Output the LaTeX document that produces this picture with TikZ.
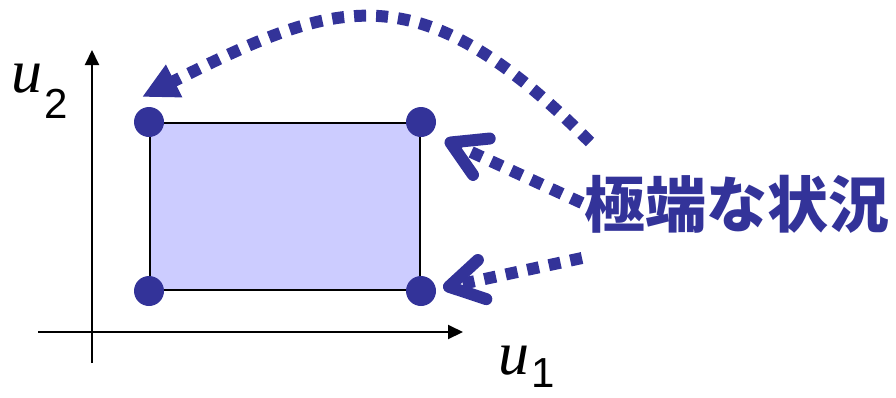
\documentclass[tikz,border=0pt]{standalone}
\usepackage{fontspec}
\usetikzlibrary{arrows.meta}
\newfontfamily\cjkfont{Noto Sans CJK JP}
\newfontfamily\mathufont{Liberation Serif}
\newfontfamily\subsfont{Liberation Sans}
\definecolor{dblue}{HTML}{333399}
\definecolor{lblue}{HTML}{CCCCFF}
\begin{document}
\begin{tikzpicture}[x=1pt,y=-1pt,
  axis/.style={line width=2pt,-{Triangle[length=15pt,width=14pt]}},
  corner/.style={circle,fill=dblue,inner sep=0pt,minimum size=30pt},
  dotarrow/.style={dblue,line width=12pt,dash pattern=on 12pt off 10pt},
  barb/.style={dotarrow,-{Straight Barb[length=34pt,width=40pt,line width=12pt,round]}},
  lbl/.style={inner sep=0pt,anchor=base west}]
\useasboundingbox (0,0) rectangle (896,397);
% axes
\coordinate (xa0) at (38,332);
\coordinate (xa1) at (463,332);
\coordinate (ya0) at (92,363);
\coordinate (ya1) at (92,50);
\draw[axis] (xa0) -- (xa1);
\draw[axis] (ya0) -- (ya1);
% region
\node[draw,fill=lblue,line width=2pt,minimum width=270pt,minimum height=167pt,inner sep=0pt] (box) at (285,206.5) {};
\node[corner] (tl) at (box.north west) {};
\node[corner] (tr) at (box.north east) {};
\node[corner] (bl) at (box.south west) {};
\node[corner] (br) at (box.south east) {};
% labels
\node[lbl] (u2) at (11,92) {\mathufont\itshape\fontsize{62}{62}\selectfont u\kern2pt\raisebox{-26pt}{\subsfont\upshape\fontsize{42}{42}\selectfont 2}};
\node[lbl] (u1) at (498,374) {\mathufont\itshape\fontsize{62}{62}\selectfont u\kern2pt\raisebox{-13pt}{\subsfont\upshape\fontsize{42}{42}\selectfont 1}};
\node[text=dblue,font=\cjkfont\bfseries\fontsize{61}{61}\selectfont,inner sep=0pt,anchor=west] (lab) at (584,204) {極端な状況};
% arrows
\coordinate (s1) at (590,142);
\coordinate (t1) at (142,97);
\coordinate (s2) at (582,203);
\coordinate (t2) at (445,140);
\coordinate (s3) at (582,258);
\coordinate (t3) at (443,288);
\draw[dotarrow,-{Triangle[length=36pt,width=34pt]}] (s1) .. controls (417,-31) and (338,-1) .. (t1);
\draw[barb] (s2) -- (t2);
\draw[barb] (s3) -- (t3);
\end{tikzpicture}
\end{document}
